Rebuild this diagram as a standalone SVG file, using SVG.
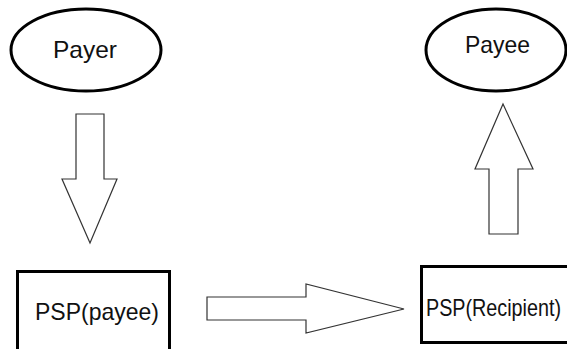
<svg xmlns="http://www.w3.org/2000/svg" width="567" height="349" viewBox="0 0 567 349">
<style>
.node{fill:#fff;stroke:#000;stroke-width:3}
.arrow{fill:#fff;stroke:#333;stroke-width:1.2;stroke-linejoin:miter}
.lbl{font-family:"Liberation Sans","DejaVu Sans",sans-serif;font-size:24px;fill:#111}
</style>
<rect width="567" height="349" fill="#fff"/>
<g id="payer">
<ellipse class="node" cx="86" cy="50" rx="75" ry="41"/>
<text class="lbl" x="53" y="58" textLength="64" lengthAdjust="spacingAndGlyphs">Payer</text>
</g>
<g id="payee">
<ellipse class="node" cx="496" cy="50" rx="70" ry="41"/>
<text class="lbl" x="465" y="53" textLength="65" lengthAdjust="spacingAndGlyphs">Payee</text>
</g>
<g id="psp-payee">
<rect class="node" x="17.5" y="271.5" width="152" height="80"/>
<text class="lbl" x="35" y="320" textLength="124" lengthAdjust="spacingAndGlyphs">PSP(payee)</text>
</g>
<g id="psp-recipient">
<rect class="node" x="421.5" y="266.5" width="160" height="76"/>
<text class="lbl" x="426" y="316" textLength="135" lengthAdjust="spacingAndGlyphs">PSP(Recipient)</text>
</g>
<g id="connectors">
<polygon class="arrow" points="76,114 104,114 104,179 117,179 90,243 62,179 76,179"/>
<polygon class="arrow" points="207,297 306,297 306,284 404,309 306,333 306,320 207,320"/>
<polygon class="arrow" points="489,234 518,234 518,169 533,169 503,104 475,169 489,169"/>
</g>
</svg>
